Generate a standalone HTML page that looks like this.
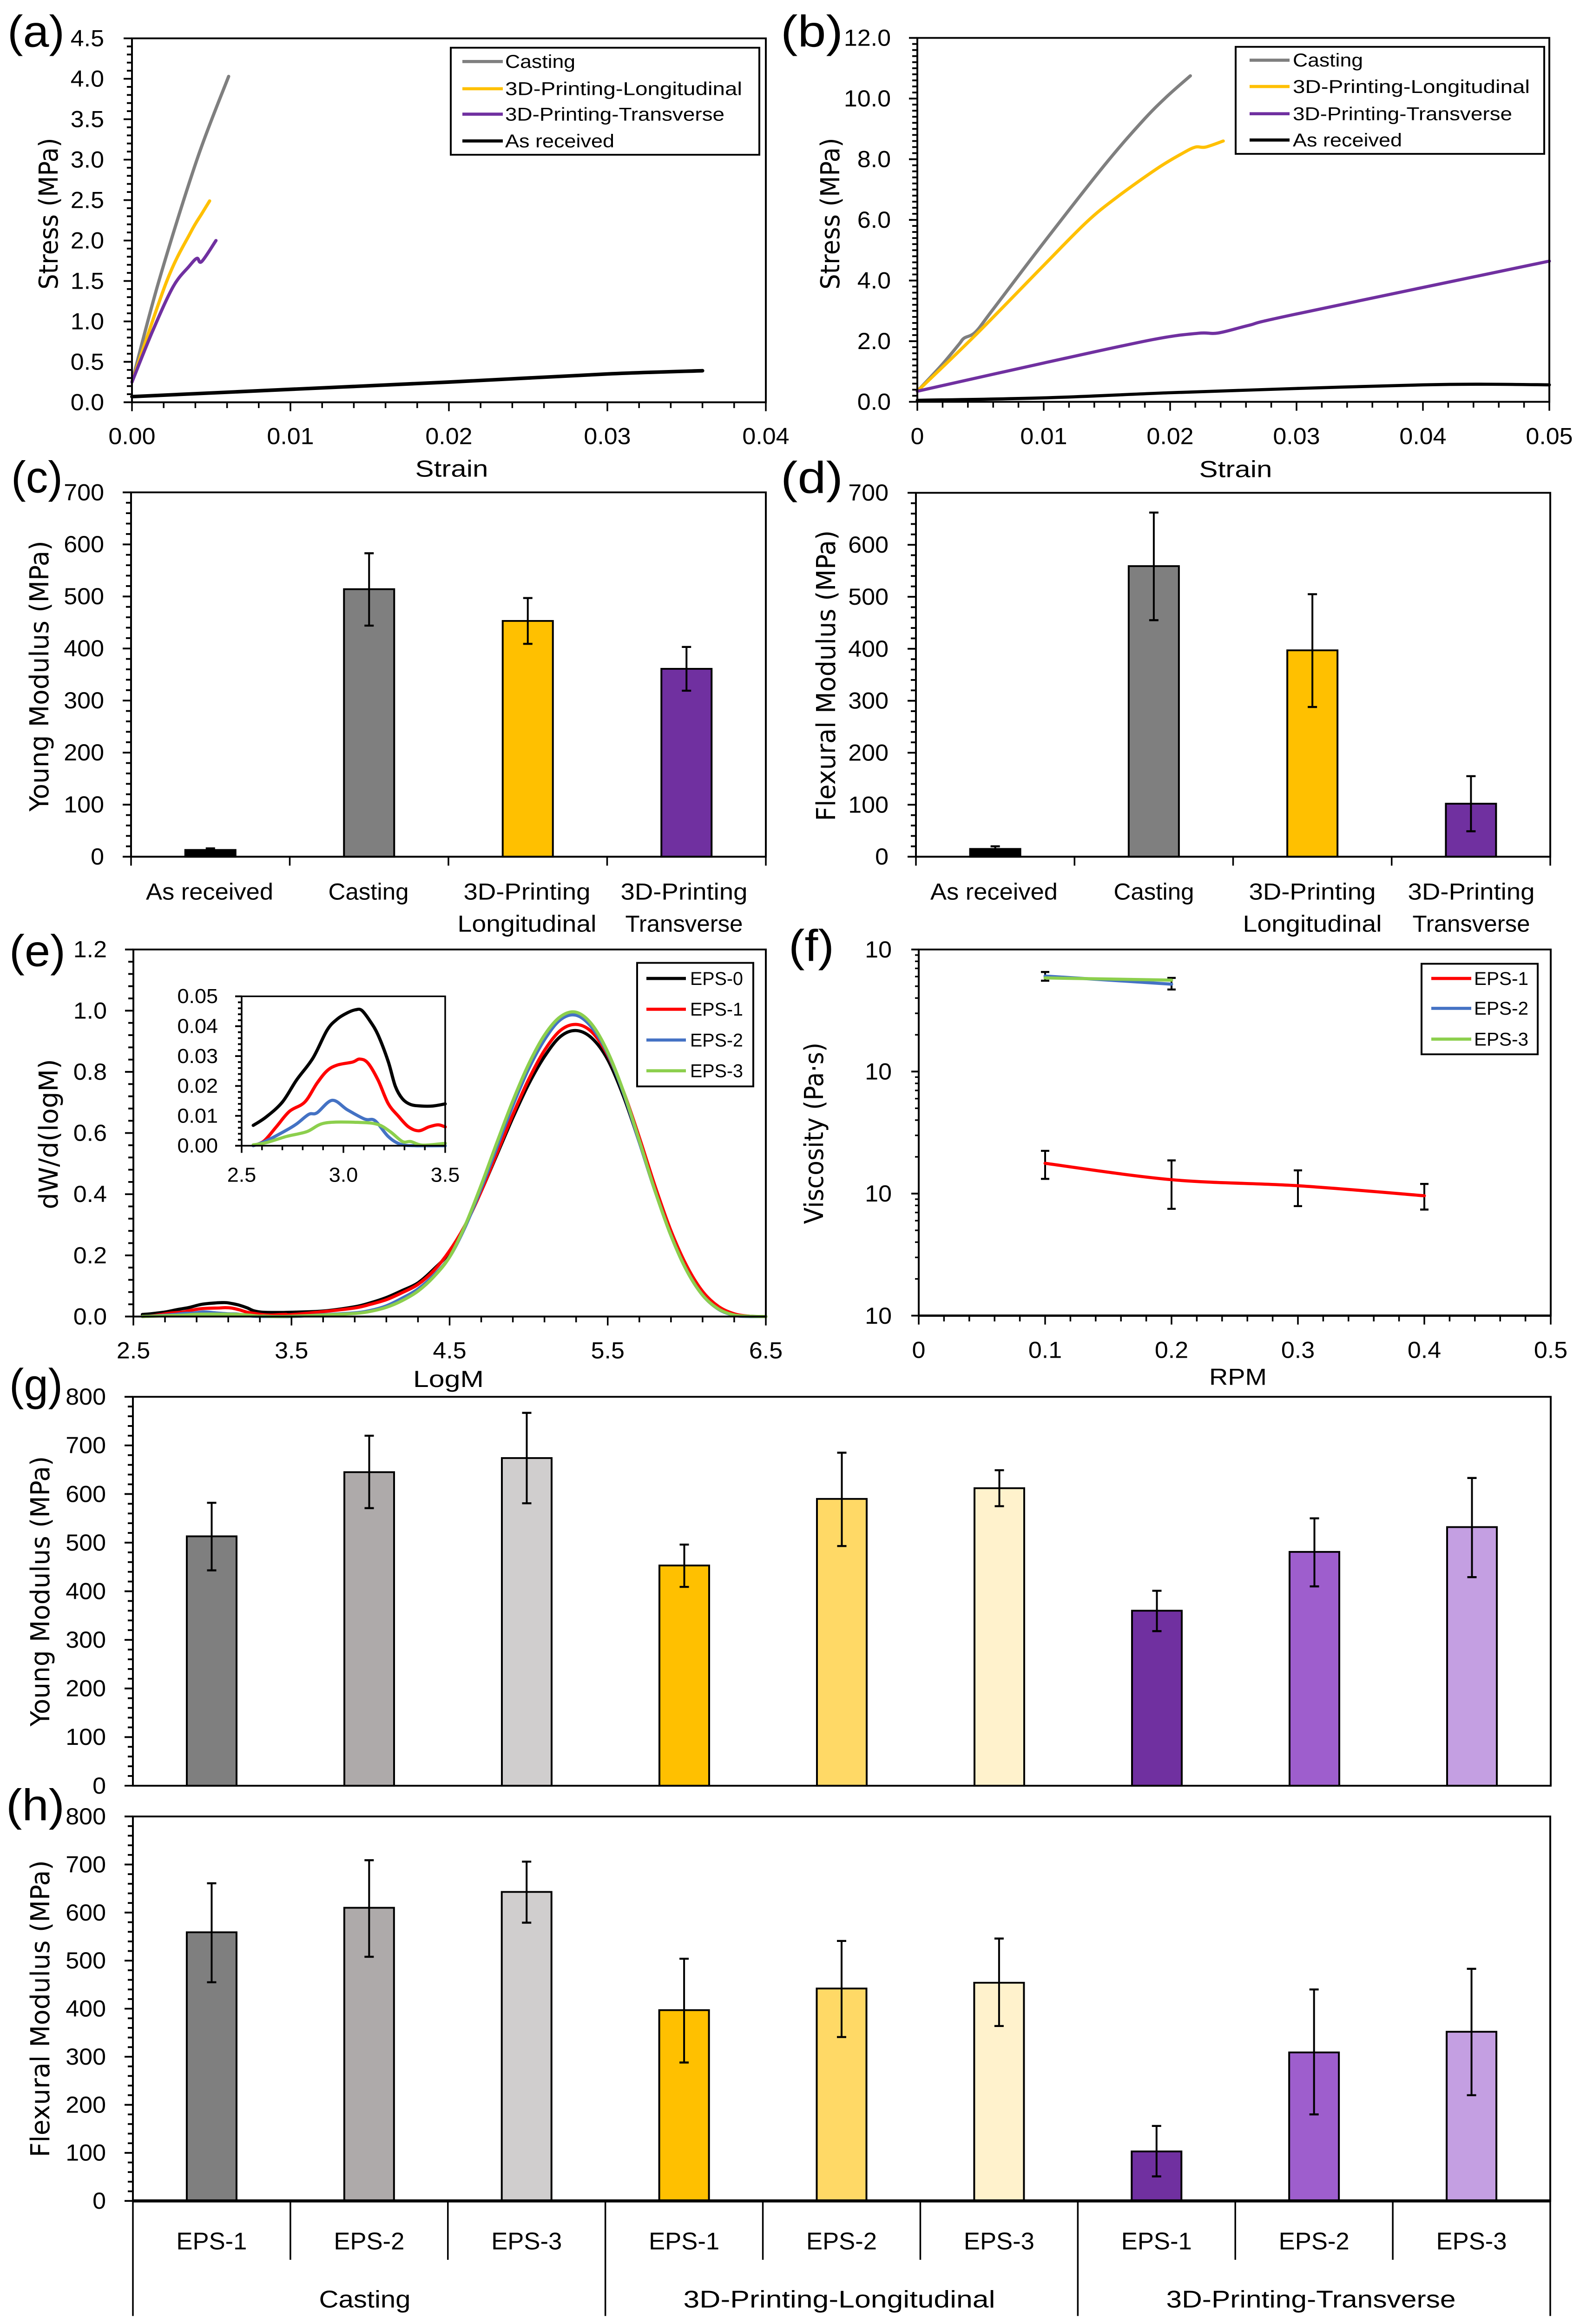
<!DOCTYPE html>
<html lang="en">
<head>
<meta charset="utf-8">
<title>Mechanical and rheological property charts</title>
<style>
html,body{margin:0;padding:0;background:#fff;overflow:hidden;}
svg{display:block;position:absolute;left:0;top:0;overflow:hidden;}
text{fill:#000;}
</style>
</head>
<body>
<svg id="figure" xmlns="http://www.w3.org/2000/svg" width="3400" height="5211" viewBox="0 0 3400 5211" preserveAspectRatio="none"></svg>
<script>
// ---------- panel (a) data ----------
const aCastingStrain = [0,0.0017,0.0041,0.0061];
const aCastingStress = [0.25,1.5,3.0,4.03];
const aLongStrain = [0,0.0022,0.0037,0.0044,0.0049];
const aLongStress = [0.25,1.5,2.1,2.33,2.49];
const aTransStrain = [0,0.0013,0.0026,0.0036,0.0041,0.0044,0.0053];
const aTransStress = [0.25,0.88,1.43,1.68,1.78,1.74,2.0];
const aReceivedStrain = [0,0.01,0.02,0.03,0.036];
const aReceivedStress = [0.07,0.16,0.25,0.35,0.39];
const aXTicks = [0,0.01,0.02,0.03,0.04];
const aXLabels = ['0.00','0.01','0.02','0.03','0.04'];
const aYTicks = [0,0.5,1,1.5,2,2.5,3,3.5,4,4.5];
const aYLabels = ['0.0','0.5','1.0','1.5','2.0','2.5','3.0','3.5','4.0','4.5'];
// ---------- panel (b) data ----------
const bCastingStrain = [0,0.0019,0.0033,0.0037,0.0046,0.0059,0.01,0.0148,0.0178,0.0197,0.0216];
const bCastingStress = [0.35,1.2,1.9,2.1,2.3,3.0,5.25,7.8,9.25,10.05,10.75];
const bLongStrain = [0,0.0046,0.01,0.0134,0.0158,0.019,0.021,0.022,0.0228,0.0242];
const bLongStress = [0.35,2.2,4.5,5.93,6.75,7.7,8.2,8.4,8.4,8.6];
const bTransStrain = [0,0.01,0.0186,0.0222,0.0238,0.0262,0.0298,0.05];
const bTransStress = [0.35,1.28,2.05,2.26,2.27,2.52,2.88,4.64];
const bReceivedStrain = [0,0.01,0.02,0.03,0.04,0.045,0.05];
const bReceivedStress = [0.05,0.13,0.3,0.44,0.56,0.58,0.56];
const bXTicks = [0,0.01,0.02,0.03,0.04,0.05];
const bXLabels = ['0','0.01','0.02','0.03','0.04','0.05'];
const bYTicks = [0,2,4,6,8,10,12];
const bYLabels = ['0.0','2.0','4.0','6.0','8.0','10.0','12.0'];
// ---------- panel (c) / (d) data ----------
const cdColors = ['#000000','#7f7f7f','#ffc000','#7030a0'];
const cValues = [13,514,453,361];
const cErrHigh = [16,583,497,403];
const cErrLow = [10,444,409,319];
const dValues = [15,559,397,102];
const dErrHigh = [20,662,505,155];
const dErrLow = [10,455,288,49];
const modulusTicks = [0,100,200,300,400,500,600,700];
// ---------- panel (e) data ----------
const eps0LowX = [2.557,2.62,2.7,2.77,2.85,2.92,2.97,3.02,3.06,3.09,3.13,3.17,3.22,3.255,3.29,3.33,3.38,3.44,3.5];
const eps0LowY = [0.0068,0.0096,0.0146,0.022,0.0293,0.0387,0.0424,0.0445,0.0455,0.0453,0.0418,0.0371,0.0282,0.0199,0.0157,0.0138,0.0133,0.0133,0.014];
const eps1LowX = [2.557,2.61,2.67,2.735,2.81,2.87,2.92,2.97,3.045,3.08,3.12,3.17,3.22,3.27,3.32,3.37,3.42,3.465,3.5];
const eps1LowY = [0,0.0016,0.0063,0.0115,0.0146,0.0209,0.0251,0.027,0.028,0.029,0.0277,0.022,0.0141,0.0099,0.0063,0.005,0.0063,0.007,0.0063];
const eps2LowX = [2.557,2.62,2.72,2.77,2.83,2.87,2.945,3.02,3.105,3.155,3.22,3.28,3.355,3.5];
const eps2LowY = [0,0.0016,0.0052,0.0073,0.0105,0.011,0.0152,0.012,0.0089,0.0084,0.0031,0.0005,0,0];
const eps3LowX = [2.557,2.62,2.72,2.82,2.91,3.08,3.17,3.23,3.29,3.33,3.39,3.5];
const eps3LowY = [0.0003,0.001,0.0031,0.0047,0.0076,0.0078,0.0071,0.0047,0.0014,0.0014,0.0002,0.0008];
const eHighLogM = [3.7,3.9,4.0,4.1,4.2,4.3,4.4,4.5,4.6,4.7,4.8,4.9,5.0,5.1,5.2,5.3,5.4,5.5,5.6,5.7,5.8,5.9,6.0,6.1,6.2,6.3,6.4,6.5];
const eps0High = [0.018,0.032,0.045,0.062,0.085,0.11,0.155,0.21,0.30,0.41,0.53,0.65,0.76,0.85,0.915,0.935,0.91,0.84,0.72,0.57,0.41,0.27,0.155,0.075,0.028,0.007,0.001,0];
const eps1High = [0.016,0.028,0.04,0.055,0.078,0.105,0.15,0.215,0.30,0.41,0.535,0.66,0.775,0.87,0.935,0.955,0.93,0.855,0.735,0.585,0.425,0.28,0.165,0.082,0.033,0.009,0.001,0];
const eps2High = [0.006,0.012,0.02,0.035,0.06,0.09,0.135,0.195,0.295,0.42,0.555,0.69,0.81,0.905,0.97,0.985,0.945,0.86,0.73,0.57,0.41,0.265,0.15,0.07,0.024,0.004,0,0];
const eps3High = [0.005,0.01,0.017,0.03,0.052,0.083,0.13,0.195,0.30,0.43,0.57,0.705,0.825,0.92,0.98,0.995,0.955,0.865,0.735,0.575,0.41,0.265,0.15,0.07,0.025,0.005,0.001,0];
const eXTicks = [2.5,3.5,4.5,5.5,6.5];
const eXLabels = ['2.5','3.5','4.5','5.5','6.5'];
const eYTicks = [0,0.2,0.4,0.6,0.8,1.0,1.2];
const eYLabels = ['0.0','0.2','0.4','0.6','0.8','1.0','1.2'];
const insetXTicks = [2.5,3.0,3.5];
const insetXLabels = ['2.5','3.0','3.5'];
const insetYTicks = [0,0.01,0.02,0.03,0.04,0.05];
const insetYLabels = ['0.00','0.01','0.02','0.03','0.04','0.05'];
// ---------- panel (f) data ----------
const fEps1Rpm = [0.1,0.2,0.3,0.4];
const fEps1Visc = [17.7,13,11.6,9.6];
const fEps1High = [22.4,18.7,15.5,12];
const fEps1Low = [13.2,7.5,7.9,7.4];
const fEps2Rpm = [0.1,0.2];
const fEps2Visc = [606,520];
const fEps2High = [654,585];
const fEps2Low = [555,470];
const fEps3Rpm = [0.1,0.2];
const fEps3Visc = [585,561];
const fXTicks = [0,0.1,0.2,0.3,0.4,0.5];
const fXLabels = ['0','0.1','0.2','0.3','0.4','0.5'];
const fYTicks = [1,10,100,1000];
const fYLabels = ['10','10','10','10'];
// ---------- panel (g) / (h) data ----------
const ghColors = ['#7f7f7f','#aeaaaa','#d0cece','#ffc000','#ffd966','#fff2cc','#7030a0','#9e5ecd','#c49fe2'];
const gValues = [513,645,674,453,590,612,360,481,532];
const gErrHigh = [582,720,767,496,685,649,401,550,633];
const gErrLow = [443,571,581,409,493,575,318,410,429];
const hValues = [559,610,643,397,442,454,103,309,352];
const hErrHigh = [661,709,706,504,541,546,156,440,483];
const hErrLow = [455,508,579,288,341,364,51,180,220];
const ghTicks = [0,100,200,300,400,500,600,700,800];
const ghCats = ['EPS-1','EPS-2','EPS-3','EPS-1','EPS-2','EPS-3','EPS-1','EPS-2','EPS-3'];

const svg = document.getElementById('figure');
const NS = 'http://www.w3.org/2000/svg';
const SANS = '"Liberation Sans", Arial, sans-serif';
const WIDE = '"DejaVu Sans", Verdana, sans-serif';

// Fit the figure to the frame height when the frame is slightly shorter than the nominal page.
if (window.innerHeight >= 4500 && window.innerHeight < 5211) {
  svg.setAttribute('height', window.innerHeight);
}

function add(tag, attrs, name, parent) {
  const el = document.createElementNS(NS, tag);
  for (const k in attrs) el.setAttribute(k, attrs[k]);
  
  
  (parent || svg).appendChild(el);
  return el;
}
function scale(d0, d1, r0, r1) { return v => r0 + (v - d0) * (r1 - r0) / (d1 - d0); }
function logScale(d0, d1, r0, r1) {
  const a = Math.log10(d0), b = Math.log10(d1);
  return v => r0 + (Math.log10(v) - a) * (r1 - r0) / (b - a);
}
function txt(name, x, y, s, size, anchor, width, font, rot) {
  const a = {x: x, y: y, 'font-size': size, 'text-anchor': anchor || 'middle', 'font-family': font || SANS};
  if (width) { a.textLength = width; a.lengthAdjust = 'spacingAndGlyphs'; }
  if (rot) a.transform = 'rotate(-90 ' + x + ' ' + y + ')';
  const t = add('text', a, name);
  t.textContent = s;
  return t;
}
function seg(name, x1, y1, x2, y2, w, color) {
  return add('line', {x1: x1, y1: y1, x2: x2, y2: y2, stroke: color || '#000', 'stroke-width': w}, name);
}
function frame(name, L, R, T, B, w, bw) {
  add('rect', {x: L, y: T, width: R - L, height: B - T, fill: 'none', stroke: '#000', 'stroke-width': w}, name);
  seg(name + '-baseline', L, B, R, B, bw || w);
}
function yAxis(prefix, L, y, ticks, labels, minorPerMajor, labelRight, size, mLen, nLen) {
  for (let i = 0; i < ticks.length; i++) {
    const p = y(ticks[i]);
    seg(prefix + '-y-tick', L - mLen, p, L, p, 4);
    txt(prefix + '-y-tick-label', labelRight, p + size * 0.34, labels[i], size, 'end');
    if (i < ticks.length - 1) {
      for (let m = 1; m < minorPerMajor; m++) {
        const v = ticks[i] + (ticks[i + 1] - ticks[i]) * m / minorPerMajor;
        seg(prefix + '-y-minor-tick', L - nLen, y(v), L, y(v), 4);
      }
    }
  }
}
function xAxis(prefix, B, x, ticks, labels, minorPerMajor, baseline, size, mLen, nLen) {
  for (let i = 0; i < ticks.length; i++) {
    const p = x(ticks[i]);
    seg(prefix + '-x-tick', p, B, p, B + mLen, 3.5);
    txt(prefix + '-x-tick-label', p, baseline, labels[i], size);
    if (i < ticks.length - 1) {
      for (let m = 1; m < minorPerMajor; m++) {
        const v = ticks[i] + (ticks[i + 1] - ticks[i]) * m / minorPerMajor;
        seg(prefix + '-x-minor-tick', x(v), B, x(v), B + nLen, 3.5);
      }
    }
  }
}
function curve(name, xs, ys, x, y, color, w) {
  const px = xs.map(x), py = ys.map(y);
  let d = 'M' + px[0] + ' ' + py[0];
  for (let i = 0; i < px.length - 1; i++) {
    const i0 = Math.max(i - 1, 0), i3 = Math.min(i + 2, px.length - 1);
    const c1x = px[i] + (px[i + 1] - px[i0]) / 6, c1y = py[i] + (py[i + 1] - py[i0]) / 6;
    const c2x = px[i + 1] - (px[i3] - px[i]) / 6, c2y = py[i + 1] - (py[i3] - py[i]) / 6;
    d += 'C' + c1x + ' ' + c1y + ' ' + c2x + ' ' + c2y + ' ' + px[i + 1] + ' ' + py[i + 1];
  }
  add('path', {d: d, fill: 'none', stroke: color, 'stroke-width': w, 'stroke-linejoin': 'round', 'stroke-linecap': 'round'}, name);
}
function errBar(name, x, yHigh, yLow, cap) {
  seg(name, x, yHigh, x, yLow, 4);
  seg(name + '-cap-top', x - cap, yHigh, x + cap, yHigh, 4.5);
  seg(name + '-cap-bottom', x - cap, yLow, x + cap, yLow, 4.5);
}
function legendBox(name, x0, y0, x1, y1, sx0, sx1, tx, labels, colors, rows, widths, size) {
  add('rect', {x: x0, y: y0, width: x1 - x0, height: y1 - y0, fill: '#fff', stroke: '#000', 'stroke-width': 4}, name);
  for (let i = 0; i < labels.length; i++) {
    seg('legend-swatch', sx0, rows[i], sx1, rows[i], 7, colors[i]);
    txt('legend-entry', tx, rows[i] + size * 0.34, labels[i], size, 'start', widths[i]);
  }
}
function barsPanel(prefix, L, R, y, B, values, high, low, colors, barW) {
  const n = values.length, g = (R - L) / n;
  for (let i = 0; i < n; i++) {
    const cx = L + g * (i + 0.5), top = y(values[i]);
    add('rect', {x: cx - barW / 2, y: top, width: barW, height: B - top, fill: colors[i], stroke: '#000', 'stroke-width': 4}, prefix + '-bar');
    errBar(prefix + '-error-bar', cx, y(high[i]), y(low[i]), 10);
  }
}

// ---------- panel labels ----------
txt('panel-label-a', 16, 105, '(a)', 100, 'start', 123);
txt('panel-label-b', 1680, 105, '(b)', 100, 'start', 134);
txt('panel-label-c', 24, 1104, '(c)', 100, 'start', 111);
txt('panel-label-d', 1680, 1105, '(d)', 100, 'start', 134);
txt('panel-label-e', 20, 2166, '(e)', 100, 'start', 121);
txt('panel-label-f', 1697, 2155, '(f)', 100, 'start', 98);
txt('panel-label-g', 20, 3139, '(g)', 100, 'start', 115);
txt('panel-label-h', 13, 4082, '(h)', 100, 'start', 126);

const stressLegend = ['Casting','3D-Printing-Longitudinal','3D-Printing-Transverse','As received'];
const stressColors = ['#7f7f7f','#ffc000','#7030a0','#000000'];
const stressWidths = [151,510,472,235];

// ---------- panel (a) ----------
(function () {
  const L = 284, R = 1648, T = 86, B = 902;
  const x = scale(0, 0.04, L, R), y = scale(0, 4.5, B, T);
  curve('a-casting-line', aCastingStrain, aCastingStress, x, y, stressColors[0], 7);
  curve('a-longitudinal-line', aLongStrain, aLongStress, x, y, stressColors[1], 7);
  curve('a-transverse-line', aTransStrain, aTransStress, x, y, stressColors[2], 7);
  curve('a-as-received-line', aReceivedStrain, aReceivedStress, x, y, stressColors[3], 8);
  frame('a-plot-frame', L, R, T, B, 4);
  yAxis('a', L, y, aYTicks, aYLabels, 5, 224, 52, 18, 11);
  xAxis('a', B, x, aXTicks, aXLabels, 5, 996, 52, 20, 13);
  txt('a-y-axis-title', 124, 479, 'Stress (MPa)', 56, 'middle', 340, WIDE, true);
  txt('a-x-axis-title', 972, 1069, 'Strain', 52, 'middle', 157);
  legendBox('a-legend', 970, 107, 1634, 347, 995, 1082, 1087, stressLegend, stressColors, [138,199,256,316], stressWidths, 42);
})();

// ---------- panel (b) ----------
(function () {
  const L = 1974, R = 3334, T = 85, B = 901;
  const x = scale(0, 0.05, L, R), y = scale(0, 12, B, T);
  curve('b-casting-line', bCastingStrain, bCastingStress, x, y, stressColors[0], 7);
  curve('b-longitudinal-line', bLongStrain, bLongStress, x, y, stressColors[1], 7);
  curve('b-transverse-line', bTransStrain, bTransStress, x, y, stressColors[2], 7);
  curve('b-as-received-line', bReceivedStrain, bReceivedStress, x, y, stressColors[3], 7);
  frame('b-plot-frame', L, R, T, B, 4);
  yAxis('b', L, y, bYTicks, bYLabels, 10, 1917, 52, 18, 11);
  xAxis('b', B, x, bXTicks, bXLabels, 5, 996, 52, 20, 13);
  txt('b-y-axis-title', 1806, 479, 'Stress (MPa)', 56, 'middle', 340, WIDE, true);
  txt('b-x-axis-title', 2659, 1070, 'Strain', 52, 'middle', 157);
  legendBox('b-legend', 2659, 105, 3323, 345, 2689, 2775, 2782, stressLegend, stressColors, [135,194,255,314], stressWidths, 42);
})();

// ---------- panel (c) ----------
(function () {
  const L = 282, R = 1648, T = 1104, B = 1921;
  const y = scale(0, 700, B, T);
  barsPanel('c', L, R, y, B, cValues, cErrHigh, cErrLow, cdColors, 108);
  frame('c-plot-frame', L, R, T, B, 4);
  yAxis('c', L, y, modulusTicks, modulusTicks.map(String), 5, 224, 52, 18, 11);
  for (let i = 0; i <= 4; i++) { seg('c-x-tick', L + (R - L) * i / 4, B, L + (R - L) * i / 4, B + 20, 3.5); }
  txt('c-y-axis-title', 104, 1516, 'Young Modulus (MPa)', 56, 'middle', 607, WIDE, true);
  txt('c-category-label', 451, 2017, 'As received', 52, 'middle', 274);
  txt('c-category-label', 793, 2017, 'Casting', 52, 'middle', 173);
  txt('c-category-label', 1134, 2017, '3D-Printing', 52, 'middle', 273);
  txt('c-category-label', 1134, 2089, 'Longitudinal', 52, 'middle', 299);
  txt('c-category-label', 1472, 2017, '3D-Printing', 52, 'middle', 273);
  txt('c-category-label', 1472, 2089, 'Transverse', 52, 'middle', 253);
})();

// ---------- panel (d) ----------
(function () {
  const L = 1971, R = 3336, T = 1105, B = 1921;
  const y = scale(0, 700, B, T);
  barsPanel('d', L, R, y, B, dValues, dErrHigh, dErrLow, cdColors, 108);
  frame('d-plot-frame', L, R, T, B, 4);
  yAxis('d', L, y, modulusTicks, modulusTicks.map(String), 5, 1912, 52, 18, 11);
  for (let i = 0; i <= 4; i++) { seg('d-x-tick', L + (R - L) * i / 4, B, L + (R - L) * i / 4, B + 20, 3.5); }
  txt('d-y-axis-title', 1797, 1515, 'Flexural Modulus (MPa)', 56, 'middle', 652, WIDE, true);
  txt('d-category-label', 2139, 2017, 'As received', 52, 'middle', 274);
  txt('d-category-label', 2483, 2017, 'Casting', 52, 'middle', 173);
  txt('d-category-label', 2824, 2017, '3D-Printing', 52, 'middle', 273);
  txt('d-category-label', 2824, 2089, 'Longitudinal', 52, 'middle', 299);
  txt('d-category-label', 3166, 2017, '3D-Printing', 52, 'middle', 273);
  txt('d-category-label', 3166, 2089, 'Transverse', 52, 'middle', 253);
})();

// ---------- panel (e) ----------
(function () {
  const L = 287, R = 1648, T = 2129, B = 2952;
  const x = scale(2.5, 6.5, L, R), y = scale(0, 1.2, B, T);
  const colors = ['#000000','#ff0000','#4472c4','#8ccf4d'];
  curve('e-eps-0-line', eps0LowX.concat(eHighLogM), eps0LowY.concat(eps0High), x, y, colors[0], 7);
  curve('e-eps-1-line', eps1LowX.concat(eHighLogM), eps1LowY.concat(eps1High), x, y, colors[1], 7);
  curve('e-eps-2-line', eps2LowX.concat(eHighLogM), eps2LowY.concat(eps2High), x, y, colors[2], 7);
  curve('e-eps-3-line', eps3LowX.concat(eHighLogM), eps3LowY.concat(eps3High), x, y, colors[3], 7);
  frame('e-plot-frame', L, R, T, B, 4);
  yAxis('e', L, y, eYTicks, eYLabels, 5, 230, 52, 18, 11);
  xAxis('e', B, x, eXTicks, eXLabels, 5, 3046, 52, 20, 13);
  txt('e-y-axis-title', 124, 2543, 'dW/d(logM)', 56, 'middle', 337, WIDE, true);
  txt('e-x-axis-title', 965, 3110, 'LogM', 52, 'middle', 152);
  legendBox('e-legend', 1371, 2159, 1621, 2436, 1391, 1476, 1485, ['EPS-0','EPS-1','EPS-2','EPS-3'], colors, [2194,2263,2332,2401], [114,114,114,114], 42);

  const iL = 520, iR = 958, iT = 2234, iB = 2569;
  const ix = scale(2.5, 3.5, iL, iR), iy = scale(0, 0.05, iB, iT);
  curve('inset-eps-0-line', eps0LowX, eps0LowY, ix, iy, colors[0], 7);
  curve('inset-eps-1-line', eps1LowX, eps1LowY, ix, iy, colors[1], 7);
  curve('inset-eps-2-line', eps2LowX, eps2LowY, ix, iy, colors[2], 7);
  curve('inset-eps-3-line', eps3LowX, eps3LowY, ix, iy, colors[3], 7);
  frame('inset-plot-frame', iL, iR, iT, iB, 3.5);
  yAxis('inset', iL, iy, insetYTicks, insetYLabels, 5, 469, 45, 14, 8);
  xAxis('inset', iB, ix, insetXTicks, insetXLabels, 5, 2650, 45, 16, 10);
})();

// ---------- panel (f) ----------
(function () {
  const L = 1977, R = 3337, T = 2129, B = 2950;
  const x = scale(0, 0.5, L, R), y = logScale(1, 1000, B, T);
  const colors = ['#ff0000','#4472c4','#8ccf4d'];
  fEps1Rpm.forEach((r, i) => errBar('f-eps-1-error-bar', x(r), y(fEps1High[i]), y(fEps1Low[i]), 9));
  fEps2Rpm.forEach((r, i) => errBar('f-eps-2-error-bar', x(r), y(fEps2High[i]), y(fEps2Low[i]), 9));
  curve('f-eps-1-line', fEps1Rpm, fEps1Visc, x, y, colors[0], 7);
  curve('f-eps-2-line', fEps2Rpm, fEps2Visc, x, y, colors[1], 7);
  curve('f-eps-3-line', fEps3Rpm, fEps3Visc, x, y, colors[2], 7);
  frame('f-plot-frame', L, R, T, B, 4, 5);
  fYTicks.forEach((v, i) => {
    seg('f-y-tick', L - 16, y(v), L, y(v), 4);
    txt('f-y-tick-label', 1919, y(v) + 18, fYLabels[i], 52, 'end');
    if (i < fYTicks.length - 1) {
      [2,3,4,5,6,7,8,9].forEach(m => seg('f-y-minor-tick', L - 8, y(v * m), L, y(v * m), 3.5));
    }
  });
  xAxis('f', B, x, fXTicks, fXLabels, 5, 3045, 52, 20, 13);
  txt('f-y-axis-title', 1771, 2541, 'Viscosity (Pa\u00b7s)', 56, 'middle', 407, WIDE, true);
  txt('f-x-axis-title', 2664, 3105, 'RPM', 52, 'middle', 124);
  legendBox('f-legend', 3059, 2161, 3309, 2364, 3080, 3166, 3172, ['EPS-1','EPS-2','EPS-3'], colors, [2194,2261,2330], [117,117,117], 42);
})();

// ---------- panel (g) ----------
(function () {
  const L = 286, R = 3337, T = 3132, B = 4004;
  const y = scale(0, 800, B, T);
  barsPanel('g', L, R, y, B, gValues, gErrHigh, gErrLow, ghColors, 107);
  frame('g-plot-frame', L, R, T, B, 4);
  yAxis('g', L, y, ghTicks, ghTicks.map(String), 5, 228, 52, 18, 11);
  txt('g-y-axis-title', 106, 3568, 'Young Modulus (MPa)', 56, 'middle', 606, WIDE, true);
})();

// ---------- panel (h) ----------
(function () {
  const L = 286, R = 3336, T = 4073, B = 4935;
  const y = scale(0, 800, B, T);
  barsPanel('h', L, R, y, B, hValues, hErrHigh, hErrLow, ghColors, 107);
  frame('h-plot-frame', L, R, T, B, 4, 7);
  yAxis('h', L, y, ghTicks, ghTicks.map(String), 5, 228, 52, 18, 11);
  txt('h-y-axis-title', 106, 4504, 'Flexural Modulus  (MPa)', 56, 'middle', 666, WIDE, true);
  const g = (R - L) / 9;
  for (let i = 0; i <= 9; i++) {
    const px = L + g * i;
    seg('h-category-divider', px, B, px, i % 3 === 0 ? 5193 : 5067, 3.5);
  }
  ghCats.forEach((c, i) => txt('h-category-label', L + g * (i + 0.5), 5044, c, 54, 'middle', 152));
  txt('h-group-label', 785, 5174, 'Casting', 54, 'middle', 197);
  txt('h-group-label', 1806, 5174, '3D-Printing-Longitudinal', 54, 'middle', 671);
  txt('h-group-label', 2821, 5174, '3D-Printing-Transverse', 54, 'middle', 623);
})();
</script>
</body>
</html>
